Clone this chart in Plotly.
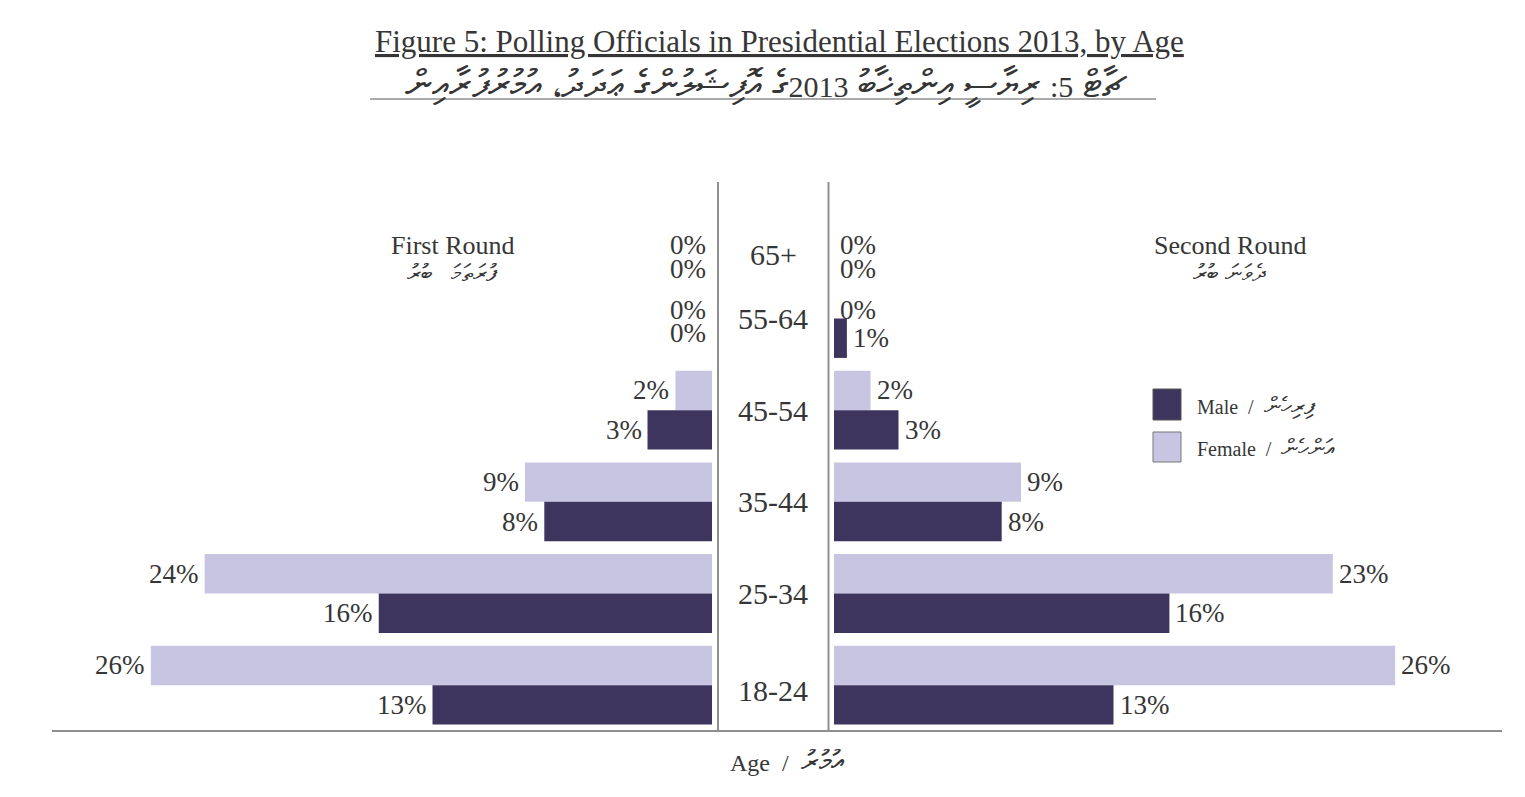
import plotly.graph_objects as go

# ---------------- data ----------------
age_groups = ["18-24", "25-34", "35-44", "45-54", "55-64", "65+"]
first_female = [26.1, 23.6, 8.7, 1.7, 0.0, 0.0]
first_male = [13.0, 15.5, 7.8, 3.0, 0.0, 0.0]
second_female = [26.1, 23.2, 8.7, 1.7, 0.0, 0.0]
second_male = [13.0, 15.6, 7.8, 3.0, 0.6, 0.0]

title_en = "Figure 5: Polling Officials in Presidential Elections 2013, by Age"
title_dv = ("ޗާޓް <span style='font-size:30px'>5:</span> ރިޔާސީ އިންތިޚާބު "
            "<span style='font-size:30px'>2013</span>ގެ އޮފިޝަލުންގެ ޢަދަދު، އުމުރުފުރާއިން")
round1_en, round1_dv = "First Round", "ފުރަތަމަ\u00a0\u00a0\u00a0ބުރު"
round2_en, round2_dv = "Second Round", "ދެވަނަ\u00a0ބުރު"
male_en, male_dv = "Male", "ފިރިހެން"
female_en, female_dv = "Female", "އަންހެން"
axis_en, axis_dv = "Age", "އުމުރު"

# ---------------- style ----------------
W, H = 1525, 797
OX, OY = 8, 8          # page body margin
FW, FH = W - OX, H - OY
MALE = "#3e355f"
FEMALE = "#c8c5e2"
TXT = "#363636"
GRID = "#8f8f8f"
FONT = "Liberation Serif, Times New Roman, serif"
PX_PER_PCT = 21.5
OFF = 0.215
BW = 0.43

def px_x(px):
    return (px - OX) / FW

def px_y(px):
    return 1 - (px - OY) / FH

# label vertical nudges (pixels) for the crowded zero-value rows
cat_shift = {"65+": -28, "18-24": -5}
lab_shift_f = {"65+": -38, "55-64": -11}
lab_shift_m_left = {"65+": -22, "55-64": 5}
lab_shift_m_right = {"65+": -22, "55-64": 0}

idx = list(range(len(age_groups)))
yf = [i + OFF for i in idx]
ym = [i - OFF for i in idx]

fig = go.Figure()
for xs, ys, col, ax in [(first_female, yf, FEMALE, "x"), (first_male, ym, MALE, "x"),
                        (second_female, yf, FEMALE, "x2"), (second_male, ym, MALE, "x2")]:
    fig.add_trace(go.Bar(x=xs, y=ys, orientation="h", width=BW,
                         marker=dict(color=col, line=dict(width=0)),
                         xaxis=ax, yaxis="y", showlegend=False, hoverinfo="x"))

ann = []
lab_font = dict(family=FONT, size=27, color=TXT)
for i, g in enumerate(age_groups):
    ann.append(dict(x=first_female[i], y=yf[i], xref="x", yref="y",
                    text=f"{round(first_female[i]):.0f}%", showarrow=False,
                    xanchor="right", yanchor="middle", xshift=-4,
                    yshift=lab_shift_f.get(g, 0), font=lab_font))
    ann.append(dict(x=first_male[i], y=ym[i], xref="x", yref="y",
                    text=f"{round(first_male[i]):.0f}%", showarrow=False,
                    xanchor="right", yanchor="middle", xshift=-4,
                    yshift=lab_shift_m_left.get(g, 0), font=lab_font))
    ann.append(dict(x=second_female[i], y=yf[i], xref="x2", yref="y",
                    text=f"{round(second_female[i]):.0f}%", showarrow=False,
                    xanchor="left", yanchor="middle", xshift=4,
                    yshift=lab_shift_f.get(g, 0), font=lab_font))
    ann.append(dict(x=second_male[i], y=ym[i], xref="x2", yref="y",
                    text=f"{round(second_male[i]):.0f}%", showarrow=False,
                    xanchor="left", yanchor="middle", xshift=4,
                    yshift=lab_shift_m_right.get(g, 0), font=lab_font))
    ann.append(dict(x=px_x(773), y=i, xref="paper", yref="y", text=g,
                    showarrow=False, xanchor="center", yanchor="middle",
                    yshift=cat_shift.get(g, 0),
                    font=dict(family=FONT, size=30, color=TXT)))

def paper_text(x, y, text, size, anchor="center"):
    return dict(x=px_x(x), y=px_y(y), xref="paper", yref="paper", text=text,
                showarrow=False, xanchor=anchor, yanchor="middle",
                font=dict(family=FONT, size=size, color=TXT))

# titles
t1 = paper_text(779, 42, title_en, 31)
t1["font"]["lineposition"] = "under"
ann.append(t1)
ann.append(paper_text(766, 85, title_dv, 38))
# round labels
ann.append(paper_text(453, 245, round1_en, 26))
ann.append(paper_text(452, 273, round1_dv, 24))
ann.append(paper_text(1230, 245, round2_en, 26))
ann.append(paper_text(1230, 273, round2_dv, 24))
# legend text
sep = "\u00a0\u00a0/\u00a0\u00a0"
ann.append(paper_text(1195, 406, f"{male_en}{sep}<span style='font-size:24px'>{male_dv}</span>", 20, "left"))
ann.append(paper_text(1195, 448, f"{female_en}{sep}<span style='font-size:24px'>{female_dv}</span>", 20, "left"))
# axis label
ann.append(paper_text(787, 760, f"{axis_en}{sep}<span style='font-size:30px'>{axis_dv}</span>", 24))

shapes = [
    dict(type="line", xref="paper", yref="paper", x0=px_x(52), x1=px_x(1502),
         y0=px_y(731), y1=px_y(731), line=dict(color=GRID, width=2)),
    dict(type="line", xref="paper", yref="paper", x0=px_x(718), x1=px_x(718),
         y0=px_y(182), y1=px_y(731), line=dict(color=GRID, width=2)),
    dict(type="line", xref="paper", yref="paper", x0=px_x(828.5), x1=px_x(828.5),
         y0=px_y(182), y1=px_y(731), line=dict(color=GRID, width=2)),
    dict(type="line", xref="paper", yref="paper", x0=px_x(370), x1=px_x(1156),
         y0=px_y(99), y1=px_y(99), line=dict(color=GRID, width=1.5)),
    dict(type="rect", xref="paper", yref="paper", x0=px_x(1153), x1=px_x(1181),
         y0=px_y(389), y1=px_y(420), fillcolor=MALE, line=dict(color="#555555", width=1)),
    dict(type="rect", xref="paper", yref="paper", x0=px_x(1153), x1=px_x(1181),
         y0=px_y(432), y1=px_y(462), fillcolor=FEMALE, line=dict(color="#777777", width=1)),
]

left_px = (52, 712)
right_px = (834, 1502)
fig.update_layout(
    width=FW, height=FH,
    margin=dict(l=0, r=0, t=0, b=0, pad=0),
    paper_bgcolor="white", plot_bgcolor="white",
    barmode="overlay",
    xaxis=dict(domain=[px_x(left_px[0]), px_x(left_px[1])],
               range=[(left_px[1] - left_px[0]) / PX_PER_PCT, 0],
               visible=False, fixedrange=True),
    xaxis2=dict(domain=[px_x(right_px[0]), px_x(right_px[1])],
                range=[0, (right_px[1] - right_px[0]) / PX_PER_PCT],
                visible=False, fixedrange=True, anchor="y"),
    yaxis=dict(domain=[px_y(731), px_y(181)], range=[-0.5, 5.5],
               visible=False, fixedrange=True),
    annotations=ann,
    shapes=shapes,
    showlegend=False,
)

fig.write_html("out.html")
